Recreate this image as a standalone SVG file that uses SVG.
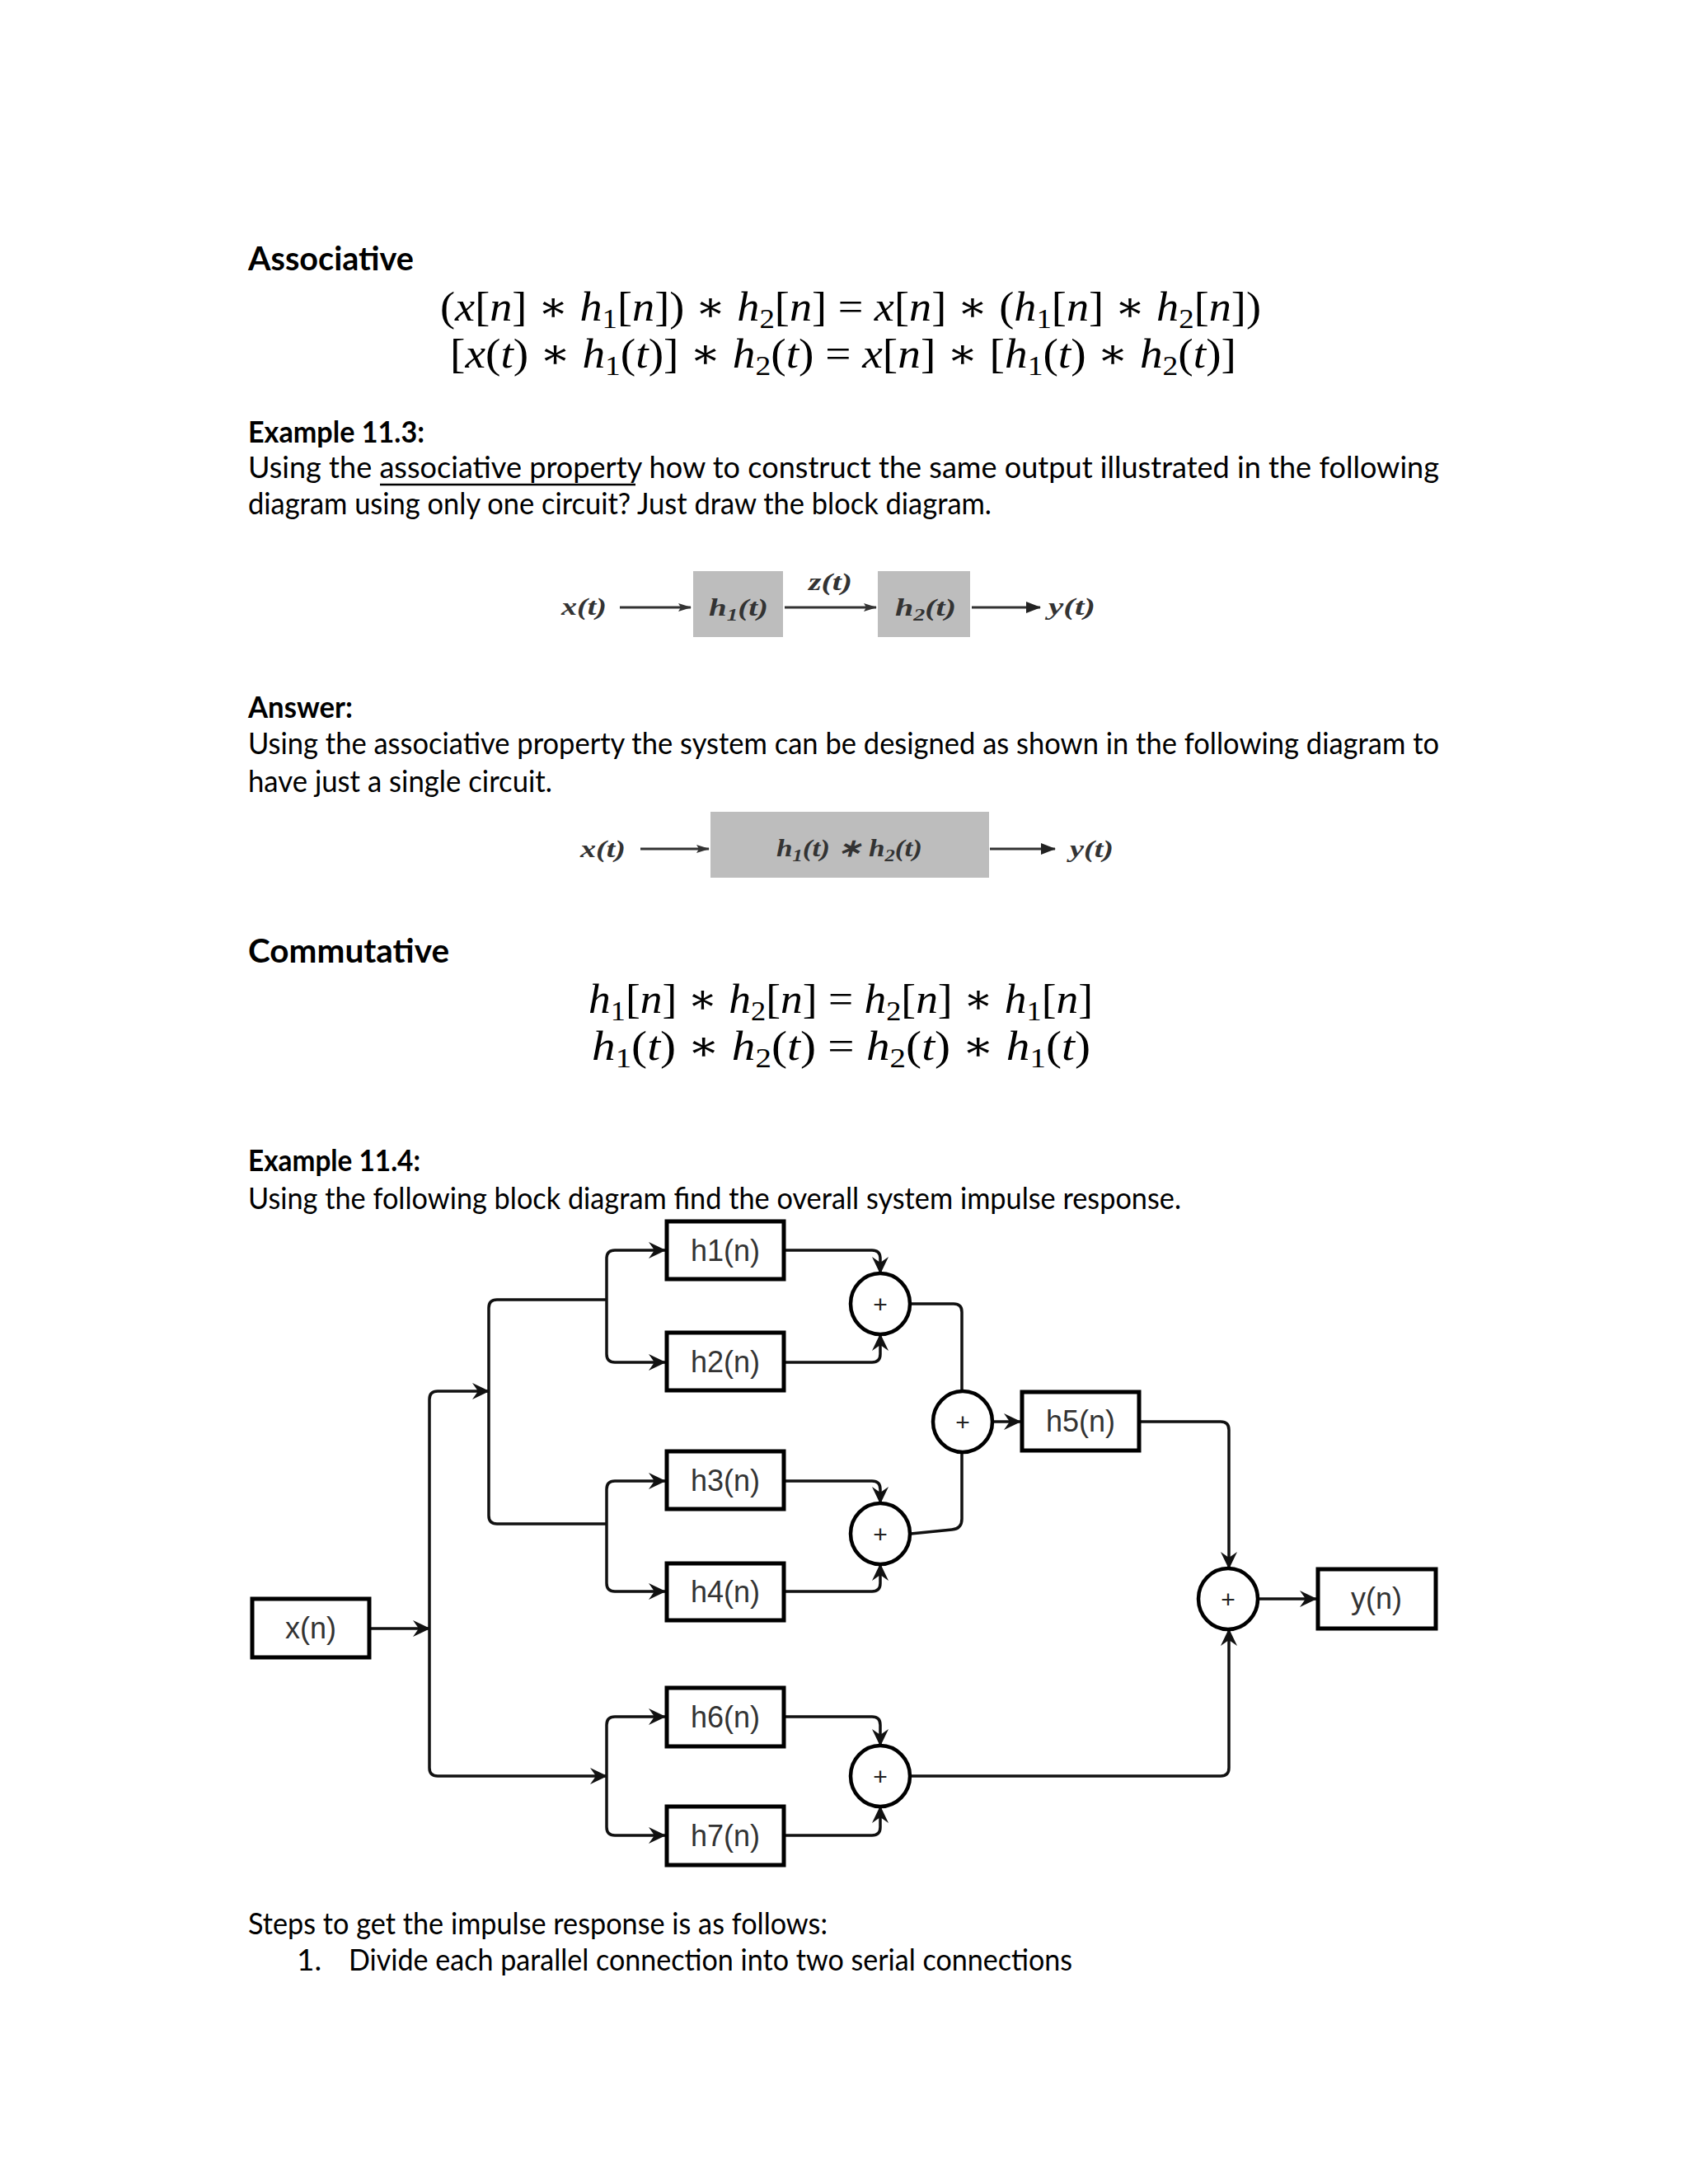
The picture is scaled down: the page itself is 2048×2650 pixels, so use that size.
<svg xmlns="http://www.w3.org/2000/svg" width="2048" height="2650" viewBox="0 0 2048 2650">
<defs>
<style>
.hd{font-family:Lato,"Liberation Sans",sans-serif;font-weight:bold;fill:#000}
.bd{font-family:Lato,"Liberation Sans",sans-serif;font-size:37px;fill:#000}
.eq{font-family:"Liberation Serif","DejaVu Serif",serif;font-size:50px;fill:#000}
.it{font-style:italic}
.sub{font-size:34px}
.d1{font-family:"Liberation Serif",serif;font-weight:bold;font-style:italic;font-size:30px;fill:#333}
.gbox{fill:#bdbdbd}
.box{fill:#fff;stroke:#000;stroke-width:5}
.sum{fill:#fff;stroke:#000;stroke-width:4.5}
.lbl{font-family:"Liberation Sans",Arial,sans-serif;font-size:36px;fill:#333;text-anchor:middle}
.plus{font-family:"Liberation Sans",Arial,sans-serif;font-size:30px;fill:#222;text-anchor:middle}
.con{fill:none;stroke:#111;stroke-width:3.5}
.a1{fill:none;stroke:#333;stroke-width:3}
</style>
<marker id="arr" viewBox="0 0 22 22" refX="21" refY="11" markerWidth="22" markerHeight="22" markerUnits="userSpaceOnUse" orient="auto"><path d="M1,1 L22,11 L1,21 L8,11 z" fill="#111"/></marker>
<marker id="sarr" viewBox="0 0 16 12" refX="15" refY="6" markerWidth="16" markerHeight="12" markerUnits="userSpaceOnUse" orient="auto"><path d="M0,1 L16,6 L0,11 L3,6 z" fill="#333"/></marker>
<marker id="barr" viewBox="0 0 18 14" refX="17" refY="7" markerWidth="18" markerHeight="14" markerUnits="userSpaceOnUse" orient="auto"><path d="M0,0 L18,7 L0,14 z" fill="#222"/></marker>
</defs>
<rect width="2048" height="2650" fill="#fff"/>

<text class="hd" x="301" y="328" font-size="40" textLength="201" lengthAdjust="spacingAndGlyphs">Associative</text>
<text class="eq" x="534" y="389" textLength="996" lengthAdjust="spacingAndGlyphs">(<tspan class="it">x</tspan>[<tspan class="it">n</tspan>] ∗ <tspan class="it">h</tspan><tspan class="sub" dy="9">1</tspan><tspan dy="-9">[</tspan><tspan class="it">n</tspan>]) ∗ <tspan class="it">h</tspan><tspan class="sub" dy="9">2</tspan><tspan dy="-9">[</tspan><tspan class="it">n</tspan>] = <tspan class="it">x</tspan>[<tspan class="it">n</tspan>] ∗ (<tspan class="it">h</tspan><tspan class="sub" dy="9">1</tspan><tspan dy="-9">[</tspan><tspan class="it">n</tspan>] ∗ <tspan class="it">h</tspan><tspan class="sub" dy="9">2</tspan><tspan dy="-9">[</tspan><tspan class="it">n</tspan>])</text>
<text class="eq" x="546" y="446" textLength="954" lengthAdjust="spacingAndGlyphs">[<tspan class="it">x</tspan>(<tspan class="it">t</tspan>) ∗ <tspan class="it">h</tspan><tspan class="sub" dy="9">1</tspan><tspan dy="-9">(</tspan><tspan class="it">t</tspan>)] ∗ <tspan class="it">h</tspan><tspan class="sub" dy="9">2</tspan><tspan dy="-9">(</tspan><tspan class="it">t</tspan>) = <tspan class="it">x</tspan>[<tspan class="it">n</tspan>] ∗ [<tspan class="it">h</tspan><tspan class="sub" dy="9">1</tspan><tspan dy="-9">(</tspan><tspan class="it">t</tspan>) ∗ <tspan class="it">h</tspan><tspan class="sub" dy="9">2</tspan><tspan dy="-9">(</tspan><tspan class="it">t</tspan>)]</text>

<text class="hd" x="301" y="537" font-size="37" textLength="214" lengthAdjust="spacingAndGlyphs">Example 11.3:</text>
<text class="bd" x="301" y="580" textLength="1445" lengthAdjust="spacingAndGlyphs">Using the associative property how to construct the same output illustrated in the following</text>
<line x1="461" y1="588" x2="771" y2="588" stroke="#000" stroke-width="2.5"/>
<text class="bd" x="301" y="624" textLength="902" lengthAdjust="spacingAndGlyphs">diagram using only one circuit? Just draw the block diagram.</text>

<g id="diag1">
<rect class="gbox" x="841" y="693" width="109" height="80"/>
<rect class="gbox" x="1065" y="693" width="112" height="80"/>
<text class="d1" x="681" y="746" textLength="55" lengthAdjust="spacingAndGlyphs">x(t)</text>
<text class="d1" x="860" y="747" font-size="32" textLength="72" lengthAdjust="spacingAndGlyphs">h<tspan font-size="21" dy="6">1</tspan><tspan dy="-6">(t)</tspan></text>
<text class="d1" x="981" y="716" textLength="53" lengthAdjust="spacingAndGlyphs">z(t)</text>
<text class="d1" x="1086" y="747" font-size="32" textLength="74" lengthAdjust="spacingAndGlyphs">h<tspan font-size="21" dy="6">2</tspan><tspan dy="-6">(t)</tspan></text>
<text class="d1" x="1272" y="746" textLength="57" lengthAdjust="spacingAndGlyphs">y(t)</text>
<path class="a1" d="M752,737 H838" marker-end="url(#sarr)"/>
<path class="a1" d="M952,737 H1063" marker-end="url(#sarr)"/>
<path class="a1" d="M1179,737 H1262" stroke-width="4" marker-end="url(#barr)"/>
</g>

<text class="hd" x="301" y="871" font-size="37" textLength="127" lengthAdjust="spacingAndGlyphs">Answer:</text>
<text class="bd" x="301" y="915" textLength="1445" lengthAdjust="spacingAndGlyphs">Using the associative property the system can be designed as shown in the following diagram to</text>
<text class="bd" x="301" y="961" textLength="369" lengthAdjust="spacingAndGlyphs">have just a single circuit.</text>

<g id="diag2">
<rect class="gbox" x="862" y="985" width="338" height="80"/>
<text class="d1" x="704" y="1040" textLength="55" lengthAdjust="spacingAndGlyphs">x(t)</text>
<text class="d1" x="942" y="1039" font-size="32" textLength="177" lengthAdjust="spacingAndGlyphs">h<tspan font-size="21" dy="6">1</tspan><tspan dy="-6">(t) ∗ h</tspan><tspan font-size="21" dy="6">2</tspan><tspan dy="-6">(t)</tspan></text>
<text class="d1" x="1298" y="1040" textLength="53" lengthAdjust="spacingAndGlyphs">y(t)</text>
<path class="a1" d="M777,1030 H860" marker-end="url(#sarr)"/>
<path class="a1" d="M1201,1030 H1280" stroke-width="4" marker-end="url(#barr)"/>
</g>

<text class="hd" x="301" y="1168" font-size="40" textLength="244" lengthAdjust="spacingAndGlyphs">Commutative</text>
<text class="eq" x="714" y="1229" textLength="612" lengthAdjust="spacingAndGlyphs"><tspan class="it">h</tspan><tspan class="sub" dy="9">1</tspan><tspan dy="-9">[</tspan><tspan class="it">n</tspan>] ∗ <tspan class="it">h</tspan><tspan class="sub" dy="9">2</tspan><tspan dy="-9">[</tspan><tspan class="it">n</tspan>] = <tspan class="it">h</tspan><tspan class="sub" dy="9">2</tspan><tspan dy="-9">[</tspan><tspan class="it">n</tspan>] ∗ <tspan class="it">h</tspan><tspan class="sub" dy="9">1</tspan><tspan dy="-9">[</tspan><tspan class="it">n</tspan>]</text>
<text class="eq" x="718" y="1286" textLength="605" lengthAdjust="spacingAndGlyphs"><tspan class="it">h</tspan><tspan class="sub" dy="9">1</tspan><tspan dy="-9">(</tspan><tspan class="it">t</tspan>) ∗ <tspan class="it">h</tspan><tspan class="sub" dy="9">2</tspan><tspan dy="-9">(</tspan><tspan class="it">t</tspan>) = <tspan class="it">h</tspan><tspan class="sub" dy="9">2</tspan><tspan dy="-9">(</tspan><tspan class="it">t</tspan>) ∗ <tspan class="it">h</tspan><tspan class="sub" dy="9">1</tspan><tspan dy="-9">(</tspan><tspan class="it">t</tspan>)</text>

<text class="hd" x="301" y="1421" font-size="37" textLength="209" lengthAdjust="spacingAndGlyphs">Example 11.4:</text>
<text class="bd" x="301" y="1467" textLength="1132" lengthAdjust="spacingAndGlyphs">Using the following block diagram find the overall system impulse response.</text>

<g id="connectors">
<path class="con" d="M450,1976 H521" marker-end="url(#arr)"/>
<path class="con" d="M521,1976 V1698 Q521,1688 531,1688 H593" marker-end="url(#arr)"/>
<path class="con" d="M521,1976 V2145 Q521,2155 531,2155 H736" marker-end="url(#arr)"/>
<path class="con" d="M593,1688 V1587 Q593,1577 603,1577 H736"/>
<path class="con" d="M593,1688 V1839 Q593,1849 603,1849 H736"/>
<path class="con" d="M736,1577 V1527 Q736,1517 746,1517 H807" marker-end="url(#arr)"/>
<path class="con" d="M736,1577 V1643 Q736,1653 746,1653 H807" marker-end="url(#arr)"/>
<path class="con" d="M736,1849 V1807 Q736,1797 746,1797 H807" marker-end="url(#arr)"/>
<path class="con" d="M736,1849 V1921 Q736,1931 746,1931 H807" marker-end="url(#arr)"/>
<path class="con" d="M736,2155 V2093 Q736,2083 746,2083 H807" marker-end="url(#arr)"/>
<path class="con" d="M736,2155 V2217 Q736,2227 746,2227 H807" marker-end="url(#arr)"/>
<path class="con" d="M953,1517 H1058 Q1068,1517 1068,1527 V1545" marker-end="url(#arr)"/>
<path class="con" d="M953,1653 H1058 Q1068,1653 1068,1643 V1619" marker-end="url(#arr)"/>
<path class="con" d="M953,1797 H1058 Q1068,1797 1068,1807 V1824" marker-end="url(#arr)"/>
<path class="con" d="M953,1931 H1058 Q1068,1931 1068,1921 V1898" marker-end="url(#arr)"/>
<path class="con" d="M953,2083 H1058 Q1068,2083 1068,2093 V2118" marker-end="url(#arr)"/>
<path class="con" d="M953,2227 H1058 Q1068,2227 1068,2217 V2192" marker-end="url(#arr)"/>
<path class="con" d="M1105,1582 H1157 Q1167,1582 1167,1592 V1688"/>
<path class="con" d="M1105,1861 L1155,1856 Q1167,1855 1167,1843 V1762"/>
<path class="con" d="M1205,1725 H1238" marker-end="url(#arr)"/>
<path class="con" d="M1384,1725 H1481 Q1491,1725 1491,1735 V1903" marker-end="url(#arr)"/>
<path class="con" d="M1105,2155 H1481 Q1491,2155 1491,2145 V1977" marker-end="url(#arr)"/>
<path class="con" d="M1527,1940 H1597" marker-end="url(#arr)"/>
</g>

<g id="xn"><rect class="box" x="306" y="1940" width="142" height="71"/><text class="lbl" x="377" y="1988">x(n)</text></g>
<g id="h1"><rect class="box" x="809" y="1482" width="142" height="70"/><text class="lbl" x="880" y="1530">h1(n)</text></g>
<g id="h2"><rect class="box" x="809" y="1617" width="142" height="70"/><text class="lbl" x="880" y="1665">h2(n)</text></g>
<g id="h3"><rect class="box" x="809" y="1761" width="142" height="70"/><text class="lbl" x="880" y="1809">h3(n)</text></g>
<g id="h4"><rect class="box" x="809" y="1897" width="142" height="69"/><text class="lbl" x="880" y="1944">h4(n)</text></g>
<g id="h6"><rect class="box" x="809" y="2048" width="142" height="71"/><text class="lbl" x="880" y="2096">h6(n)</text></g>
<g id="h7"><rect class="box" x="809" y="2192" width="142" height="71"/><text class="lbl" x="880" y="2240">h7(n)</text></g>
<g id="h5"><rect class="box" x="1240" y="1689" width="142" height="71"/><text class="lbl" x="1311" y="1737">h5(n)</text></g>
<g id="yn"><rect class="box" x="1599" y="1904" width="143" height="72"/><text class="lbl" x="1670" y="1952">y(n)</text></g>

<g id="sum1"><ellipse class="sum" cx="1068" cy="1582" rx="36" ry="37"/><text class="plus" x="1068" y="1593">+</text></g>
<g id="sum2"><ellipse class="sum" cx="1068" cy="1861" rx="36" ry="37"/><text class="plus" x="1068" y="1872">+</text></g>
<g id="sum3"><ellipse class="sum" cx="1068" cy="2155" rx="36" ry="37"/><text class="plus" x="1068" y="2166">+</text></g>
<g id="sum4"><ellipse class="sum" cx="1168" cy="1725" rx="36" ry="37"/><text class="plus" x="1168" y="1736">+</text></g>
<g id="sum5"><ellipse class="sum" cx="1490" cy="1940" rx="36" ry="37"/><text class="plus" x="1490" y="1951">+</text></g>

<text class="bd" x="301" y="2347" textLength="703" lengthAdjust="spacingAndGlyphs">Steps to get the impulse response is as follows:</text>
<text class="bd" x="360" y="2391">1.</text>
<text class="bd" x="423" y="2391" textLength="878" lengthAdjust="spacingAndGlyphs">Divide each parallel connection into two serial connections</text>
</svg>
